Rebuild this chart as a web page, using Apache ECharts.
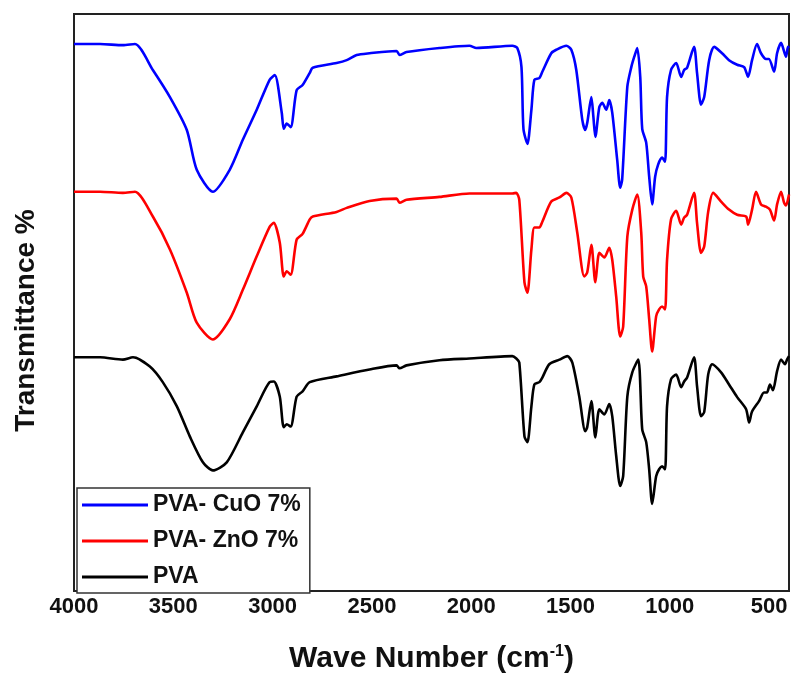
<!DOCTYPE html>
<html>
<head>
<meta charset="utf-8">
<script src="https://cdn.jsdelivr.net/npm/echarts@6/dist/echarts.min.js"></script>
<style>
  html, body { margin: 0; padding: 0; background: #fff; }
  #chart { width: 792px; height: 679px; }
</style>
</head>
<body>
<div id="chart"></div>
<script>
// FTIR spectra, transmittance in arbitrary (offset) units
const seriesNames = ['PVA- CuO 7%', 'PVA- ZnO 7%', 'PVA'];
const seriesColors = ['#0000ff', '#ff0000', '#000000'];

const cuoWave = [4000, 3869, 3754, 3693, 3603, 3517, 3432, 3382, 3301, 3216, 3150, 3080, 3015, 2989, 2954, 2944, 2929, 2909, 2879, 2849, 2813, 2798, 2678, 2627, 2577, 2512, 2376, 2361, 2326, 2160, 2009, 1974, 1793, 1768, 1747, 1737, 1717, 1697, 1682, 1657, 1642, 1597, 1572, 1521, 1496, 1471, 1441, 1426, 1416, 1395, 1385, 1375, 1355, 1340, 1320, 1305, 1290, 1265, 1250, 1240, 1214, 1194, 1179, 1164, 1149, 1139, 1119, 1104, 1089, 1074, 1059, 1039, 1024, 1014, 994, 968, 943, 928, 913, 878, 863, 843, 827, 802, 777, 737, 702, 661, 626, 606, 586, 561, 541, 516, 501, 475, 460, 440, 415, 405, 400];
const cuoT = [94.8, 94.8, 94.6, 94.8, 90.3, 85.6, 79.9, 73.0, 69.2, 73.0, 78.2, 83.4, 88.6, 89.4, 82.9, 80.1, 81.0, 80.4, 86.8, 87.7, 89.8, 90.7, 91.5, 92.0, 92.9, 93.2, 93.6, 92.9, 93.4, 94.1, 94.5, 94.1, 94.5, 94.1, 90.8, 80.1, 77.5, 83.4, 88.6, 88.9, 90.0, 93.2, 93.8, 94.5, 93.8, 90.3, 81.7, 79.9, 81.1, 85.6, 82.2, 78.7, 83.9, 84.6, 83.4, 85.1, 82.9, 74.7, 69.9, 71.3, 87.4, 90.8, 92.6, 94.1, 89.1, 80.1, 77.7, 71.8, 67.0, 71.8, 73.9, 75.1, 74.4, 85.6, 90.3, 91.5, 89.1, 90.3, 90.7, 94.3, 89.8, 84.3, 85.6, 92.0, 94.3, 93.2, 92.0, 91.2, 90.8, 89.1, 92.0, 94.8, 93.2, 92.2, 92.2, 90.0, 93.2, 95.0, 92.6, 94.3, 94.1];

const znoWave = [4000, 3869, 3754, 3693, 3603, 3517, 3432, 3382, 3301, 3216, 3150, 3080, 3015, 2994, 2964, 2944, 2929, 2909, 2879, 2849, 2813, 2798, 2678, 2627, 2512, 2376, 2361, 2326, 2160, 2009, 1793, 1773, 1758, 1732, 1717, 1697, 1682, 1657, 1642, 1597, 1556, 1521, 1496, 1466, 1431, 1416, 1395, 1375, 1355, 1330, 1305, 1290, 1270, 1250, 1235, 1214, 1189, 1164, 1144, 1134, 1119, 1104, 1089, 1069, 1054, 1039, 1024, 1014, 994, 968, 943, 928, 913, 878, 863, 843, 827, 807, 782, 742, 702, 661, 616, 606, 586, 566, 541, 516, 496, 475, 460, 440, 425, 415, 400];
const znoT = [69.2, 69.2, 69.0, 69.2, 64.9, 59.2, 51.7, 46.5, 43.6, 47.1, 52.2, 58.0, 63.1, 63.8, 60.4, 54.5, 55.4, 54.8, 60.9, 61.9, 64.4, 64.9, 65.7, 66.4, 67.6, 68.0, 67.3, 67.8, 68.3, 68.9, 68.9, 69.0, 67.8, 53.5, 51.7, 59.2, 63.0, 63.0, 64.0, 67.5, 68.2, 69.0, 68.2, 62.1, 54.5, 55.2, 60.0, 53.5, 58.6, 57.8, 59.5, 57.4, 51.0, 44.1, 45.8, 61.4, 66.1, 68.7, 62.1, 54.5, 52.8, 47.1, 41.5, 47.6, 48.8, 49.3, 48.8, 57.4, 64.4, 65.9, 63.5, 64.7, 65.2, 69.0, 63.8, 58.6, 59.7, 65.7, 69.0, 67.5, 66.1, 65.2, 64.9, 63.5, 66.1, 69.2, 67.0, 66.6, 66.1, 64.2, 67.0, 69.2, 67.3, 66.8, 68.7];

const pvaWave = [4000, 3869, 3754, 3703, 3618, 3553, 3482, 3417, 3351, 3301, 3231, 3150, 3080, 3015, 2994, 2964, 2944, 2929, 2909, 2879, 2849, 2813, 2678, 2512, 2376, 2361, 2326, 2160, 2009, 1793, 1773, 1758, 1732, 1717, 1697, 1682, 1657, 1642, 1607, 1556, 1516, 1491, 1456, 1426, 1416, 1395, 1375, 1355, 1330, 1305, 1290, 1270, 1250, 1235, 1214, 1189, 1159, 1139, 1119, 1104, 1089, 1069, 1054, 1039, 1024, 1014, 994, 968, 943, 928, 913, 878, 863, 843, 827, 807, 787, 742, 702, 661, 616, 601, 586, 551, 526, 511, 496, 481, 460, 440, 420, 410, 400];
const pvaT = [40.5, 40.5, 40.1, 40.5, 38.9, 36.2, 32.0, 26.8, 22.3, 20.9, 22.3, 27.5, 32.0, 36.2, 36.3, 33.7, 28.4, 28.9, 28.5, 33.7, 34.6, 36.2, 37.2, 38.4, 39.1, 38.6, 39.1, 40.0, 40.3, 40.7, 40.3, 39.6, 26.8, 25.8, 32.0, 35.8, 36.2, 37.0, 39.3, 40.1, 40.7, 39.6, 33.7, 27.7, 28.4, 32.9, 26.6, 31.5, 30.6, 32.4, 30.3, 23.4, 18.2, 19.9, 33.7, 37.9, 40.1, 28.0, 25.8, 21.1, 15.1, 19.9, 21.1, 21.6, 21.1, 32.0, 36.7, 37.5, 35.3, 36.3, 37.0, 40.5, 35.5, 30.3, 31.0, 37.5, 39.3, 37.9, 35.8, 33.6, 31.5, 29.2, 31.1, 32.9, 34.4, 34.4, 35.8, 34.8, 38.1, 40.1, 39.3, 40.1, 40.7];

const waves = [cuoWave, znoWave, pvaWave];
const values = [cuoT, znoT, pvaT];

const font = 'Liberation Sans, Arial, sans-serif';

const chart = echarts.init(document.getElementById('chart'));

chart.setOption({
  animation: false,
  backgroundColor: '#fff',
  grid: {
    left: 74, right: 2, top: 14, bottom: 87,
    show: true, borderColor: '#222', borderWidth: 2
  },
  legend: {
    left: 77, top: 488,
    orient: 'vertical',
    backgroundColor: '#fff',
    borderColor: '#333', borderWidth: 1.5,
    padding: [5, 9, 4, 5],
    icon: 'rect',
    itemWidth: 66, itemHeight: 3, itemGap: 12,
    textStyle: { fontFamily: font, fontWeight: 'bold', fontSize: 23, color: '#111', lineHeight: 24 },
    data: seriesNames
  },
  xAxis: {
    type: 'value',
    min: 400, max: 4000, interval: 100,
    inverse: true,
    name: 'Wave Number (cm{sup|-1})',
    nameLocation: 'middle',
    nameGap: 53,
    nameTextStyle: {
      fontFamily: font, fontWeight: 'bold', fontSize: 30, color: '#111',
      rich: { sup: { fontFamily: font, fontWeight: 'bold', fontSize: 16, color: '#111', verticalAlign: 'top', padding: [0, 0, 13, 0] } }
    },
    axisLine: { show: false },
    axisTick: { show: false },
    splitLine: { show: false },
    axisLabel: {
      margin: 5,
      fontFamily: font, fontWeight: 'bold', fontSize: 22, color: '#111',
      formatter: v => (v % 500 === 0 ? String(v) : '')
    }
  },
  yAxis: {
    type: 'value',
    min: 0, max: 100,
    name: 'Transmittance %',
    nameLocation: 'middle',
    nameRotate: 90,
    nameGap: 34,
    nameTextStyle: { fontFamily: font, fontWeight: 'bold', fontSize: 28, color: '#111', padding: [0, 36, 0, 0] },
    axisLine: { show: false },
    axisTick: { show: false },
    axisLabel: { show: false },
    splitLine: { show: false }
  },
  series: seriesNames.map((name, i) => ({
    name: name,
    type: 'line',
    symbol: 'none',
    smooth: 0.25,
    color: seriesColors[i],
    lineStyle: { width: 2.6, color: seriesColors[i] },
    data: waves[i].map((w, j) => [w, values[i][j]])
  }))
});
</script>
</body>
</html>
